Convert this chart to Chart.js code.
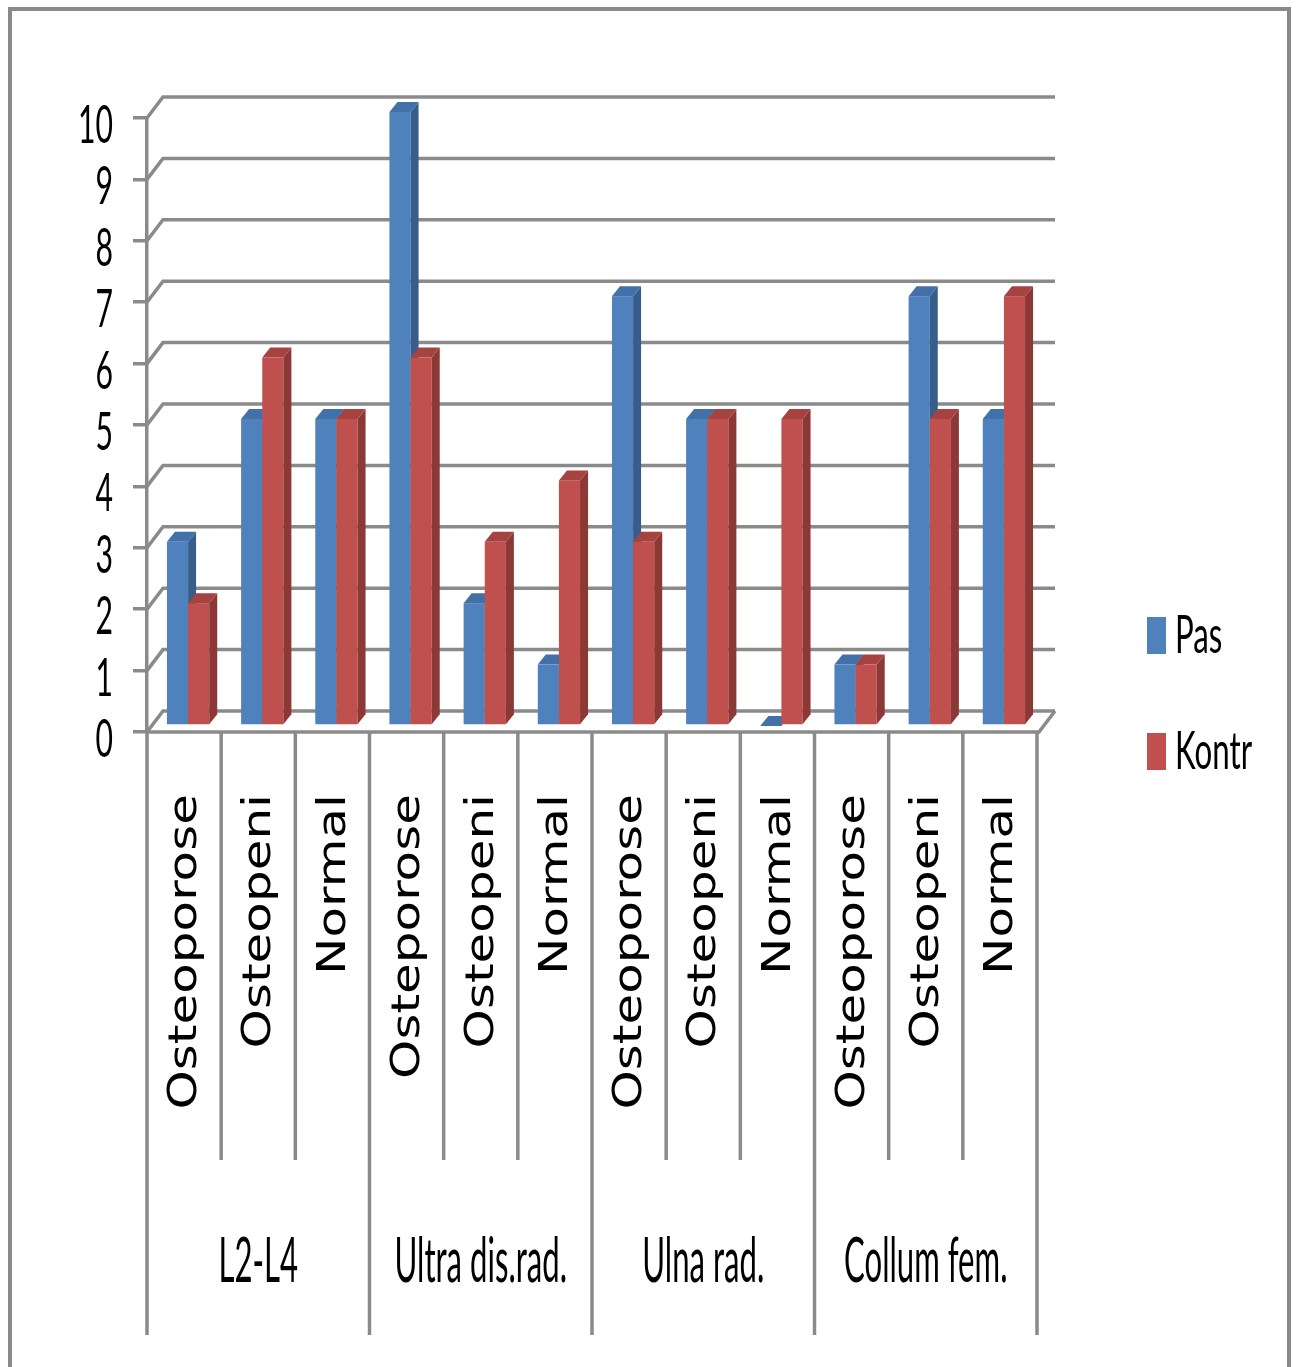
<!DOCTYPE html>
<html>
<head>
<meta charset="utf-8">
<script src="https://cdn.jsdelivr.net/npm/chart.js@4"></script>
<style>
html, body { margin: 0; padding: 0; background: #fff; }
canvas { display: block; }
</style>
</head>
<body>
<canvas id="chart" width="1296" height="1367"></canvas>
<script>
// data
const groups = ['L2-L4', 'Ultra dis.rad.', 'Ulna rad.', 'Collum fem.'];
const categories = [
    'Osteoporose', 'Osteopeni', 'Normal',
    'Osteporose', 'Osteopeni', 'Normal',
    'Osteoporose', 'Osteopeni', 'Normal',
    'Osteoporose', 'Osteopeni', 'Normal'
];
const pasValues = [3, 5, 5, 10, 2, 1, 7, 5, 0, 1, 7, 5];
const kontrValues = [2, 6, 5, 6, 3, 4, 3, 5, 5, 1, 5, 7];
const yTicks = [0, 1, 2, 3, 4, 5, 6, 7, 8, 9, 10];

const GRID = '#8a8a8a';
const WALL_DX = 16, WALL_DY = -21;   // back wall offset
const MID_DX = 4, MID_DY = -6;       // bars stand half way into the floor
const BAR_DX = 8, BAR_DY = -10;      // bar depth
const faceColors = {
    '#4F81BD': { side: '#385D8A', top: '#4270A8' },
    '#C0504D': { side: '#8C3836', top: '#A6423F' }
};

// squeezed text, the original was stretched vertically
function squeezeText(ctx, text, x, y, size, sx, align) {
    ctx.save();
    ctx.translate(x, y);
    ctx.scale(sx, 1);
    ctx.font = size + 'px Lato';
    ctx.fillStyle = '#000';
    ctx.textAlign = align;
    ctx.textBaseline = 'alphabetic';
    ctx.fillText(text, 0, 0);
    ctx.restore();
}

const box3d = {
    id: 'box3d',
    beforeDatasetsDraw(chart) {
        const { ctx, chartArea: a, scales: { y } } = chart;
        ctx.save();
        ctx.strokeStyle = GRID;
        ctx.lineWidth = 3.5;
        yTicks.forEach(v => {
            const py = y.getPixelForValue(v);
            ctx.beginPath();
            ctx.moveTo(a.left, py);
            ctx.lineTo(a.left + WALL_DX, py + WALL_DY);
            ctx.lineTo(a.right + WALL_DX + 2, py + WALL_DY);
            ctx.stroke();
        });
        ctx.restore();
    },
    // bars are painted below as boxes, in category order
    beforeDatasetDraw() {
        return false;
    },
    afterDatasetsDraw(chart) {
        const { ctx, chartArea: a, scales: { y } } = chart;
        const sets = chart.data.datasets;
        ctx.save();
        categories.forEach((c, i) => {
            sets.forEach((ds, di) => {
                const bar = chart.getDatasetMeta(di).data[i];
                const p = bar.getProps(['x', 'y', 'base', 'width'], true);
                const l = p.x - p.width / 2 + MID_DX, r = l + p.width;
                const top = p.y + MID_DY, base = p.base + MID_DY;
                const fc = faceColors[ds.backgroundColor];
                ctx.fillStyle = ds.backgroundColor;
                ctx.fillRect(l, top, p.width, base - top);
                // side
                ctx.fillStyle = fc.side;
                ctx.beginPath();
                ctx.moveTo(r, top);
                ctx.lineTo(r + BAR_DX, top + BAR_DY);
                ctx.lineTo(r + BAR_DX, base + BAR_DY);
                ctx.lineTo(r, base);
                ctx.closePath();
                ctx.fill();
                // top
                ctx.fillStyle = fc.top;
                ctx.beginPath();
                ctx.moveTo(l, top);
                ctx.lineTo(r, top);
                ctx.lineTo(r + BAR_DX, top + BAR_DY);
                ctx.lineTo(l + BAR_DX, top + BAR_DY);
                ctx.closePath();
                ctx.fill();
            });
        });
        // floor front edge
        const p0 = y.getPixelForValue(0);
        ctx.strokeStyle = GRID;
        ctx.lineWidth = 3.5;
        ctx.beginPath();
        ctx.moveTo(a.left, p0);
        ctx.lineTo(a.right + 2, p0);
        ctx.lineTo(a.right + WALL_DX + 2, p0 + WALL_DY);
        ctx.stroke();
        ctx.restore();
    },
    afterDraw(chart) {
        const { ctx, scales: { x, y } } = chart;
        const p0 = y.getPixelForValue(0);
        ctx.save();

        // y labels
        y.ticks.forEach(t => {
            squeezeText(ctx, String(t.value), 113, y.getPixelForValue(t.value) + 25, 52, 0.58, 'right');
        });

        // category labels, rotated and squeezed across
        categories.forEach((c, i) => {
            ctx.save();
            ctx.translate(x.getPixelForValue(i) + 2, p0 + 62);
            ctx.rotate(-Math.PI / 2);
            ctx.scale(1, 0.78);
            ctx.font = '50px "DejaVu Sans"';
            ctx.fillStyle = '#000';
            ctx.textAlign = 'right';
            ctx.textBaseline = 'middle';
            ctx.fillText(c, 0, 0);
            ctx.restore();
        });

        // category separators
        const half = (x.getPixelForValue(1) - x.getPixelForValue(0)) / 2;
        const bounds = [];
        for (let i = 0; i <= categories.length; i++) {
            bounds.push(x.getPixelForValue(i) - half);
        }
        ctx.strokeStyle = GRID;
        ctx.lineWidth = 3.5;
        bounds.forEach((bx, i) => {
            ctx.beginPath();
            ctx.moveTo(bx, p0);
            ctx.lineTo(bx, i % 3 === 0 ? 1335 : 1160);
            ctx.stroke();
        });

        // group labels
        groups.forEach((g, gi) => {
            const cx = (bounds[gi * 3] + bounds[gi * 3 + 3]) / 2;
            squeezeText(ctx, g, cx, 1282, 61, 0.51, 'center');
        });

        // legend
        chart.data.datasets.forEach((ds, di) => {
            const top = 617 + di * 116;
            ctx.fillStyle = ds.backgroundColor;
            ctx.fillRect(1147, top, 19, 37);
            squeezeText(ctx, ds.label, 1175, top + 36, 53, 0.59, 'left');
        });

        // outer frame
        ctx.strokeStyle = '#8a8a8a';
        ctx.lineWidth = 4;
        ctx.strokeRect(10, 9, 1279, 1400);
        ctx.restore();
    }
};

new Chart(document.getElementById('chart'), {
    type: 'bar',
    data: {
        labels: categories,
        datasets: [
            { label: 'Pas', data: pasValues, backgroundColor: '#4F81BD' },
            { label: 'Kontr', data: kontrValues, backgroundColor: '#C0504D' }
        ]
    },
    options: {
        responsive: false,
        animation: false,
        devicePixelRatio: 1,
        layout: { padding: { top: 118, right: 259, bottom: 0, left: 0 } },
        datasets: { bar: { categoryPercentage: 0.57, barPercentage: 1 } },
        plugins: {
            legend: { display: false },
            tooltip: { enabled: false }
        },
        scales: {
            x: {
                grid: { display: false },
                border: { display: false },
                ticks: { display: false, autoSkip: false },
                afterFit(s) { s.height = 635; }
            },
            y: {
                min: 0,
                max: 10,
                ticks: { stepSize: 1, display: false },
                grid: { drawOnChartArea: false, drawTicks: true, tickLength: 14, color: GRID, lineWidth: 3.5 },
                border: { display: true, color: GRID, width: 3.5 },
                afterFit(s) { s.width = 147; }
            }
        }
    },
    plugins: [box3d]
});
</script>
</body>
</html>
